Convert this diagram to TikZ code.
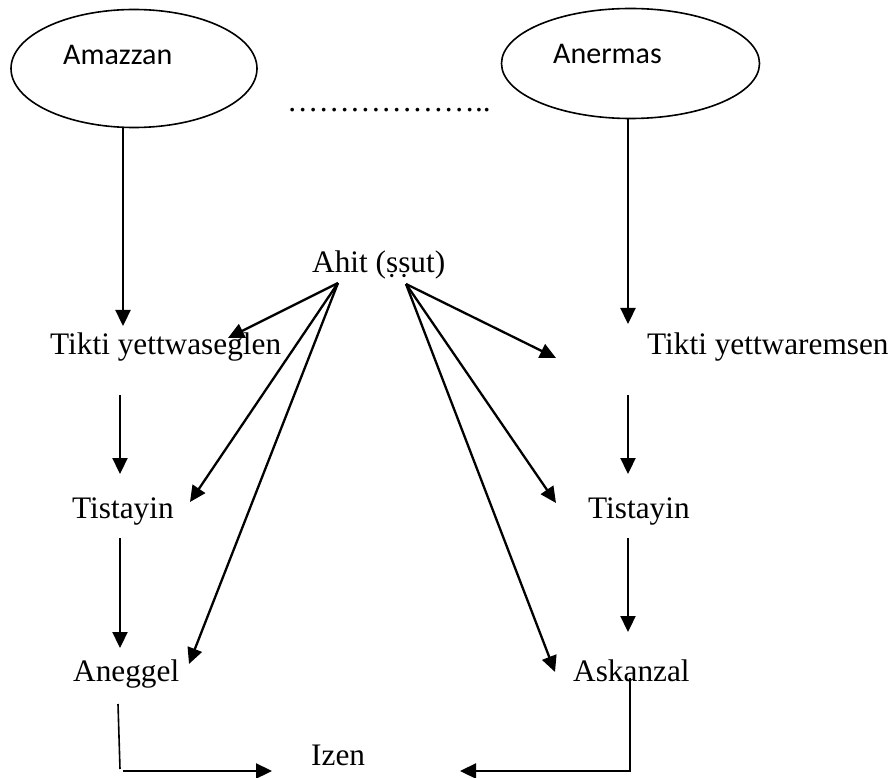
\documentclass[tikz,border=0pt]{standalone}
\usepackage{fontspec}
\setmainfont{Liberation Serif}
\newfontfamily\ellfont{Carlito}
\usetikzlibrary{arrows.meta}
\begin{document}
\begin{tikzpicture}[x=1pt,y=-1pt,
  lbl/.style={inner sep=0pt,anchor=base west,font=\fontsize{31.3}{36}\selectfont},
  elltxt/.style={inner sep=0pt,anchor=base west,font=\ellfont\fontsize{30}{34}\selectfont},
  ellline/.style={line width=1.6pt},
  thin/.style={line width=1.6pt},
  arr/.style={line width=2.3pt,-{Triangle[length=16pt,width=15pt]}}]
\useasboundingbox (0,0) rectangle (895,778);
% ellipses
\draw[ellline] (134,68.5) ellipse [x radius=123,y radius=59];
\draw[ellline] (630.5,63.5) ellipse [x radius=129,y radius=55];
\node[elltxt] (amzt) at (63,65) {Amazzan};
\node[elltxt] (anmt) at (553,64) {Anermas};
\node[lbl] (dots) at (287,112) {………………..};
% texts
\node[lbl] (ahit) at (312,273) {Ahit (ṣṣut)};
\node[lbl] (tl) at (50,355) {Tikti yettwaseglen};
\node[lbl] (tr) at (647,355) {Tikti yettwaremsen};
\node[lbl] (sl) at (72,518) {Tistayin};
\node[lbl] (sr) at (588,518) {Tistayin};
\node[lbl] (ag) at (73,681) {Aneggel};
\node[lbl] (ak) at (573,681) {Askanzal};
\node[lbl] (iz) at (311,765) {Izen};
% connector end points
\coordinate (a1) at (123,127.5);
\coordinate (a2) at (123,326);
\coordinate (b1) at (628,118.5);
\coordinate (b2) at (628,324);
\coordinate (c1) at (120,395);
\coordinate (c2) at (120,474);
\coordinate (d1) at (628,395);
\coordinate (d2) at (628,474);
\coordinate (e1) at (120,538);
\coordinate (e2) at (120,648);
\coordinate (f1) at (628,538);
\coordinate (f2) at (628,632);
\coordinate (lo) at (338,283);
\coordinate (ro) at (406,284);
\coordinate (l1) at (228,338);
\coordinate (l2) at (190,502);
\coordinate (l3) at (189,664);
\coordinate (r1) at (556,358);
\coordinate (r2) at (556,503);
\coordinate (r3) at (555,672);
\coordinate (g1) at (118,704);
\coordinate (g2) at (120,769);
\coordinate (g3) at (123,771);
\coordinate (g4) at (272,771);
\coordinate (h1) at (630,678);
\coordinate (h2) at (630,771);
\coordinate (h3) at (460,771);
% connectors
\draw[arr] (a1) -- (a2);
\draw[arr] (b1) -- (b2);
\draw[arr] (c1) -- (c2);
\draw[arr] (d1) -- (d2);
\draw[arr] (e1) -- (e2);
\draw[arr] (f1) -- (f2);
\draw[arr] (lo) -- (l1);
\draw[arr] (lo) -- (l2);
\draw[arr] (lo) -- (l3);
\draw[arr] (ro) -- (r1);
\draw[arr] (ro) -- (r2);
\draw[arr] (ro) -- (r3);
\draw[thin] (g1) -- (g2);
\draw[arr] (g3) -- (g4);
\draw[arr] (h1) -- (h2) -- (h3);
\end{tikzpicture}
\end{document}
